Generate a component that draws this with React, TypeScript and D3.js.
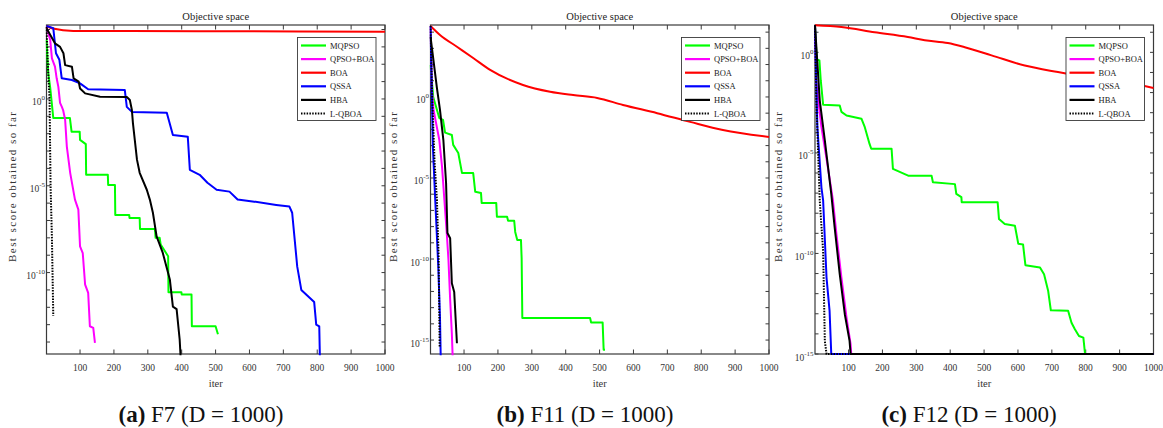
import React from 'react';
import * as d3 from 'd3';

type Pt = [number, number];

// ---------- data (iteration, best score) ----------
const ALGORITHMS = ['MQPSO', 'QPSO+BOA', 'BOA', 'QSSA', 'HBA', 'L-QBOA'];
const X_TICKS = [100, 200, 300, 400, 500, 600, 700, 800, 900, 1000];
const CAPTION_TAGS = ['(a)', '(b)', '(c)'];
const CAPTION_TEXTS = [' F7 (D = 1000)', ' F11 (D = 1000)', ' F12 (D = 1000)'];
const Y_LABEL_EXPONENTS_F7 = [0, -5, -10];
const Y_LABEL_EXPONENTS_F11 = [0, -5, -10, -15];
const Y_LABEL_EXPONENTS_F12 = [0, -5, -10, -15];

const F7_MQPSO: Pt[] = [[1, 2.5e3], [6, 32], [12, 4.3], [21, 8.1e-2], [70, 8.1e-2], [75, 1.3e-2], [99, 1.3e-2], [100, 4.4e-3], [117, 2.5e-3], [118, 4.3e-5], [182, 4.3e-5], [183, 1.1e-5], [203, 1.1e-5], [204, 2.1e-7], [245, 2.1e-7], [246, 1.4e-7], [276, 1.4e-7], [277, 3.2e-8], [321, 3.2e-8], [323, 1e-8], [335, 1e-8], [338, 4.1e-9], [360, 8.7e-10], [361, 7.4e-12], [399, 7.4e-12], [400, 5.5e-12], [429, 5.5e-12], [430, 8.1e-14], [500, 8.1e-14], [507, 2.8e-14]];
const F7_QPSOBOA: Pt[] = [[1, 1.4e4], [12, 2.5e3], [17, 220], [26, 72], [31, 15.5], [36, 5], [41, 0.59], [46, 0.36], [50, 0.23], [56, 6.3e-2], [61, 1.8e-3], [71, 5.4e-5], [85, 1.6e-6], [95, 4.2e-7], [100, 3.2e-9], [108, 1.3e-9], [115, 2e-11], [124, 6.8e-12], [129, 8.1e-14], [139, 6.5e-14], [144, 8.9e-15]];
const F7_BOA: Pt[] = [[1, 1.6e4], [20, 1.15e4], [80, 8.3e3], [450, 8.0e3], [1000, 7.4e3]];
const F7_QSSA: Pt[] = [[1, 1.6e4], [21, 1.2e4], [29, 430], [39, 180], [46, 15.5], [76, 12.3], [100, 7.9], [124, 3.6], [232, 3.3], [238, 0.35], [253, 0.18], [356, 0.16], [374, 8.5e-3], [418, 6.6e-3], [424, 8.3e-5], [453, 4.3e-5], [476, 1.5e-5], [503, 5.9e-6], [541, 4.6e-6], [565, 1.6e-6], [609, 1.26e-6], [679, 7.9e-7], [718, 6.3e-7], [726, 2.8e-7], [741, 2.2e-10], [753, 1e-11], [791, 2e-12], [797, 1e-13], [806, 7.9e-14], [809, 1e-16]];
const F7_HBA: Pt[] = [[1, 1.2e4], [26, 1.6e3], [41, 1e3], [51, 430], [56, 89], [76, 72], [81, 15.5], [96, 10], [100, 4], [115, 2.1], [159, 1.35], [238, 1.3], [247, 0.87], [253, 0.23], [256, 4.2e-2], [268, 3.2e-4], [276, 5.6e-5], [297, 5.9e-6], [306, 1.6e-6], [315, 2.8e-7], [326, 1.2e-8], [344, 1.4e-9], [365, 4e-11], [374, 1.1e-12], [385, 7.9e-13], [394, 1.4e-14], [400, 1e-16]];
const F7_LQBOA: Pt[] = [[1, 1.4e4], [5, 100], [10, 1], [13, 1e-5], [17, 1e-8], [21, 3.2e-13]];

const F11_MQPSO: Pt[] = [[1, 95], [9, 1], [27, 5e-2], [38, 3.8e-2], [44, 6.3e-3], [64, 4.5e-3], [68, 1.1e-3], [83, 3.5e-4], [94, 2e-5], [127, 2e-5], [133, 1.4e-6], [150, 1.2e-6], [152, 2.9e-7], [195, 2.9e-7], [197, 4.1e-8], [227, 4.1e-8], [230, 2.3e-8], [248, 2.3e-8], [251, 4.7e-9], [257, 1.5e-9], [268, 1.5e-9], [270, 1.1e-10], [272, 2.3e-14], [472, 2.3e-14], [475, 1.2e-14], [509, 1.2e-14], [512, 2.5e-16], [516, 2.5e-16]];
const F11_QPSOBOA: Pt[] = [[1, 2.4e4], [5, 2.7], [10, 0.16], [27, 2.2e-3], [35, 5e-5], [42, 4.4e-7], [49, 4e-9], [54, 8.7e-11], [59, 3.2e-13], [64, 2.5e-15], [68, 1e-17]];
const F11_BOA: Pt[] = [[1, 2.4e4], [29, 6.7e3], [79, 1.26e3], [128, 245], [177, 47], [274, 5.5], [354, 2.1], [422, 1.3], [493, 0.87], [569, 0.32], [670, 0.1], [767, 2.9e-2], [864, 9.1e-3], [1000, 3.4e-3]];
const F11_QSSA: Pt[] = [[1, 2.4e4], [8, 8.5e-4], [15, 4.4e-7], [24, 3.2e-11], [29, 2.5e-14], [32, 1e-17]];
const F11_HBA: Pt[] = [[1, 5.2e3], [20, 3.5], [29, 0.16], [39, 2.2e-3], [47, 4.7e-6], [51, 4e-9], [59, 1.9e-9], [64, 3.2e-12], [71, 9.1e-13], [79, 6.3e-16]];
const F11_LQBOA: Pt[] = [[1, 2.4e4], [6, 1], [13, 1e-4], [20, 4.4e-7], [25, 1.4e-10], [28, 4e-16]];

const F12_MQPSO: Pt[] = [[1, 20], [6, 0.45], [14, 0.4], [18, 4e-2], [25, 2.5e-3], [74, 2.3e-3], [79, 1.1e-3], [94, 7.2e-4], [138, 5e-4], [148, 1.9e-4], [162, 2.8e-5], [167, 1.6e-5], [227, 1.6e-5], [231, 1.6e-6], [276, 7.4e-7], [345, 7.4e-7], [349, 3.5e-7], [414, 2.8e-7], [418, 9.1e-8], [433, 6.3e-8], [434, 3.5e-8], [540, 3.5e-8], [544, 5.1e-9], [561, 2.9e-9], [591, 2.4e-9], [601, 3e-10], [615, 2.8e-10], [622, 2.6e-11], [665, 2e-11], [677, 9.3e-12], [689, 1.4e-12], [697, 1.5e-13], [748, 1.4e-13], [758, 3.6e-14], [768, 1.7e-14], [780, 7.9e-15], [793, 6.5e-15], [798, 1e-15], [1000, 1e-15]];
const F12_QPSOBOA: Pt[] = [[1, 22], [5, 2.8e-2], [20, 1.9e-4], [39, 1.9e-6], [54, 4.3e-8], [64, 1e-9], [79, 6.3e-12], [94, 6.5e-14], [106, 3.2e-15], [108, 1e-15], [1000, 1e-15]];
const F12_BOA: Pt[] = [[1, 22], [79, 18], [177, 10], [275, 5.8], [325, 4], [393, 2.9], [443, 1.8], [522, 0.71], [620, 0.22], [718, 0.105], [817, 5.5e-2], [916, 3.3e-2], [1000, 1.7e-2]];
const F12_QSSA: Pt[] = [[1, 22], [8, 1.9e-4], [20, 1.9e-7], [25, 4.3e-8], [35, 6.3e-12], [44, 1.4e-13], [49, 1e-15], [1000, 1e-15]];
const F12_HBA: Pt[] = [[1, 22], [15, 4.1e-3], [30, 4.2e-5], [49, 9.1e-8], [59, 2e-9], [74, 9.3e-12], [89, 9.5e-14], [103, 4.5e-15], [106, 1e-15], [1000, 1e-15]];
const F12_LQBOA: Pt[] = [[1, 22], [5, 4.1e-3], [15, 4.3e-8], [25, 1.3e-10], [30, 4.5e-15], [35, 1e-15], [1000, 1e-15]];

// ---------- styles / layout ----------
const COLORS = ['#00ff00', '#ff00ff', '#ff0000', '#0000ff', '#000000', '#000000'];
const DASHES: (string | undefined)[] = [undefined, undefined, undefined, undefined, undefined, '1.5,1.3'];
const FONT = "'Liberation Serif', 'Times New Roman', serif";
const AXIS = '#3a3a3a';
const TOP = 25;
const BOTTOM = 354;
const W = 338.5;

const PANELS = [
  { left: 46.5, ylabelOffset: 30.5, yDomain: [Math.pow(10, -14.69), Math.pow(10, 4.26)], exps: Y_LABEL_EXPONENTS_F7, series: [F7_MQPSO, F7_QPSOBOA, F7_BOA, F7_QSSA, F7_HBA, F7_LQBOA], capX: 201 },
  { left: 430.5, ylabelOffset: 33.5, yDomain: [Math.pow(10, -15.86), Math.pow(10, 4.44)], exps: Y_LABEL_EXPONENTS_F11, series: [F11_MQPSO, F11_QPSOBOA, F11_BOA, F11_QSSA, F11_HBA, F11_LQBOA], capX: 585 },
  { left: 815, ylabelOffset: 33.5, yDomain: [1e-15, Math.pow(10, 1.36)], exps: Y_LABEL_EXPONENTS_F12, series: [F12_MQPSO, F12_QPSOBOA, F12_BOA, F12_QSSA, F12_HBA, F12_LQBOA], capX: 969 },
];

function Panel({ p, idx }: { p: typeof PANELS[number]; idx: number }) {
  const x = d3.scaleLinear().domain([1, 1000]).range([p.left, p.left + W]);
  const y = d3.scaleLog().domain(p.yDomain as [number, number]).range([BOTTOM, TOP]);
  const right = p.left + W;
  const lo = Math.ceil(Math.log10(p.yDomain[0]) - 1e-9);
  const hi = Math.floor(Math.log10(p.yDomain[1]) + 1e-9);
  const decades = d3.range(lo, hi + 1);
  const clipId = `clip-${idx}`;
  const lineGen = (i: number) => {
    const g = d3.line<Pt>().x((d) => x(d[0])).y((d) => y(d[1]));
    if (ALGORITHMS[i] === 'BOA') g.curve(d3.curveMonotoneX);
    return g;
  };
  const legX = right - 87.5;
  const legY = 37.5;
  return (
    <g>
      <defs>
        <clipPath id={clipId}>
          <rect x={p.left - 1} y={TOP - 1} width={W + 2} height={BOTTOM - TOP + 2.2} />
        </clipPath>
      </defs>
      {/* frame */}
      <rect x={p.left} y={TOP} width={W} height={BOTTOM - TOP} fill="white" stroke={AXIS} strokeWidth={1.2} />
      {X_TICKS.map((t) => (
        <g key={'xt' + t}>
          <line x1={x(t)} x2={x(t)} y1={BOTTOM} y2={BOTTOM - 4.5} stroke={AXIS} strokeWidth={1} />
          <line x1={x(t)} x2={x(t)} y1={TOP} y2={TOP + 4.5} stroke={AXIS} strokeWidth={1} />
          <text x={x(t)} y={370.5} textAnchor="middle" fontSize={9.5} fill="#333" fontFamily={FONT}>{t}</text>
        </g>
      ))}
      {decades.map((e) => (
        <g key={'yt' + e}>
          <line x1={p.left} x2={p.left + 3.5} y1={y(Math.pow(10, e))} y2={y(Math.pow(10, e))} stroke={AXIS} strokeWidth={1} />
          <line x1={right} x2={right - 3.5} y1={y(Math.pow(10, e))} y2={y(Math.pow(10, e))} stroke={AXIS} strokeWidth={1} />
        </g>
      ))}
      {p.exps.map((e) => (
        <text key={'yl' + e} x={p.left - 1.5} y={y(Math.pow(10, e)) + 6.5} textAnchor="end" fontSize={9.5} fill="#333" fontFamily={FONT}>
          10<tspan dy={-5} fontSize={7}>{String(e)}</tspan>
        </text>
      ))}
      <text x={(p.left + right) / 2} y={19.5} textAnchor="middle" fontSize={10.5} fill="#222" fontFamily={FONT}>Objective space</text>
      <text x={(p.left + right) / 2} y={387} textAnchor="middle" fontSize={10.5} fill="#333" fontFamily={FONT}>iter</text>
      <text transform={`translate(${p.left - p.ylabelOffset},187) rotate(-90)`} textAnchor="middle" fontSize={11} fill="#333" fontFamily={FONT} textLength={150} lengthAdjust="spacing">Best score obtained so far</text>
      {/* data */}
      <g clipPath={`url(#${clipId})`}>
        {p.series.map((s, i) => (
          <path key={'s' + i} d={lineGen(i)(s) || ''} fill="none" stroke={COLORS[i]} strokeWidth={2} strokeDasharray={DASHES[i]} strokeLinejoin="round" />
        ))}
      </g>
      {/* legend */}
      <rect x={legX} y={legY} width={78.5} height={83} fill="white" stroke={AXIS} strokeWidth={0.9} />
      {ALGORITHMS.map((name, i) => {
        const ly = legY + 8 + i * 13.6;
        return (
          <g key={'lg' + i}>
            <line x1={legX + 3.5} x2={legX + 28.5} y1={ly} y2={ly} stroke={COLORS[i]} strokeWidth={2.2} strokeDasharray={DASHES[i]} />
            <text x={legX + 32.5} y={ly + 3} fontSize={8.5} fill="#222" fontFamily={FONT}>{name}</text>
          </g>
        );
      })}
      {/* caption */}
      <text x={p.capX} y={421.5} textAnchor="middle" fontSize={23} fill="#111" fontFamily={FONT}>
        <tspan fontWeight="bold">{CAPTION_TAGS[idx]}</tspan>{CAPTION_TEXTS[idx]}
      </text>
    </g>
  );
}

export default function App() {
  return (
    <svg width={1163} height={428} style={{ position: 'absolute', left: 0, top: 0, background: 'white' }}>
      <rect x={0} y={0} width={1163} height={428} fill="white" />
      {PANELS.map((p, i) => (
        <Panel key={i} p={p} idx={i} />
      ))}
    </svg>
  );
}
